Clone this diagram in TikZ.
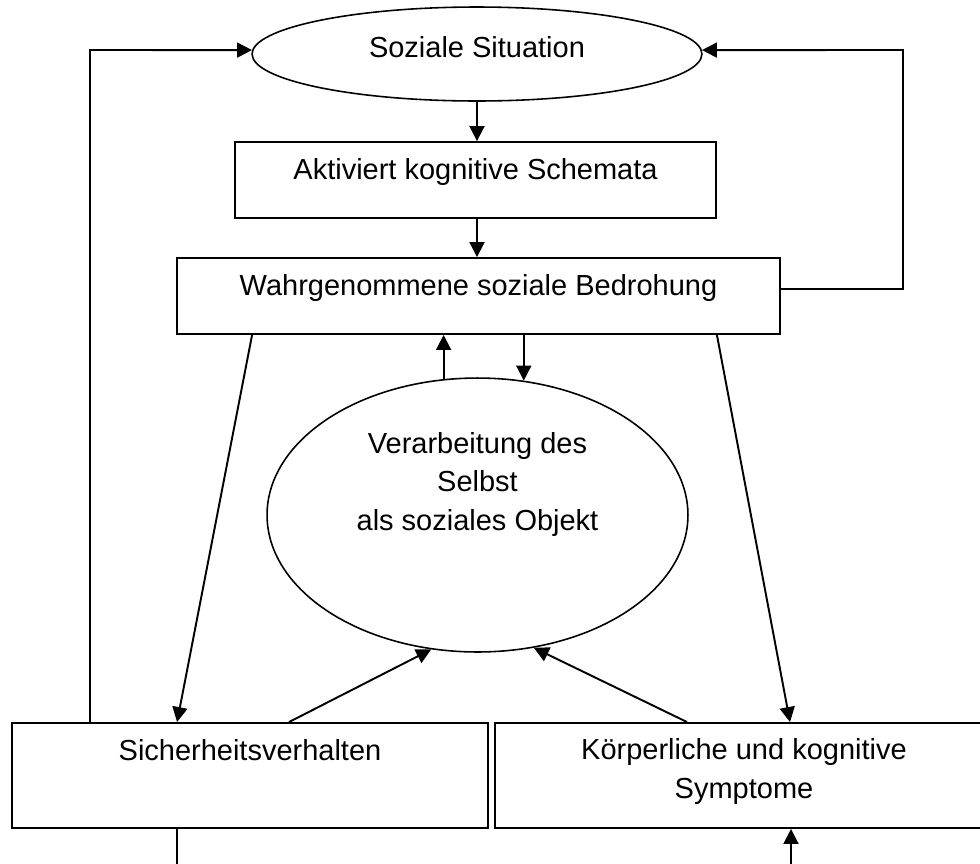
\documentclass[tikz,border=0pt]{standalone}
\usepackage{fontspec}
\setmainfont{Liberation Sans}
\usepackage{tikz}
\usetikzlibrary{arrows.meta,shapes.geometric,calc}

\begin{document}
\begin{tikzpicture}[x=0.02cm, y=-0.02cm,
  every node/.style={font=\fontsize{16.5}{21.8}\selectfont, inner sep=0pt, align=center},
  box/.style={draw, rectangle, line width=1.1pt},
  oval/.style={draw, ellipse, line width=0.9pt},
  arr/.style={-{Triangle[length=0.3cm, width=0.3cm]}, line width=1.1pt},
  plain/.style={line width=1.1pt}]
  \useasboundingbox (0,0) rectangle (980,863);

  % Top Chain: Situation -> Schemata -> Threat
  \node (sit) at (477,54) [oval, minimum width=9cm, minimum height=1.88cm, text height=0.42cm, text depth=0.3cm] {Soziale Situation};
  \node (akt) at (475.5,180) [box, minimum width=9.62cm, text height=0.74cm, text depth=0.78cm] {Aktiviert kognitive Schemata};
  \node (bed) at (478.5,296) [box, minimum width=12.06cm, text height=0.74cm, text depth=0.78cm] {Wahrgenommene soziale Bedrohung};

  % Centre Oval: Self Processing
  \node (ver) at (477.5,515) [oval, minimum width=8.42cm, minimum height=5.48cm, text height=1.98cm, text depth=1.38cm] {Verarbeitung des\\Selbst\\als soziales Objekt};

  % Bottom Boxes (right one runs past the page edge)
  \node (sich) at (250,775.5) [box, minimum width=9.52cm, text height=0.74cm, text depth=1.36cm] {Sicherheitsverhalten};
  \node (koe) at (744,775.5) [box, minimum width=9.96cm, text height=1.5cm, text depth=0.6cm] {Körperliche und kognitive\\Symptome};

  % Turning points and loose ends
  \coordinate (lturn) at (90,50);
  \coordinate (rturn) at (903,50);
  \coordinate (sichout) at (177,880);
  \coordinate (koein) at (791,880);

  % Downward chain
  \draw[arr] (sit.south) -- (sit.south |- akt.north);
  \draw[arr] (sit.south |- akt.south) -- (sit.south |- bed.north);

  % Feedback loops back to the situation
  \draw[arr] (bed.east |- 0,289) -| (rturn) -- (sit.1);
  \draw[arr] (sich.north -| lturn) -- (lturn) -- (sit.179);

  % Threat <-> self processing
  \draw[arr] (ver.104) -- (ver.104 |- bed.south);
  \draw[arr] (bed.south -| ver.71) -- (ver.71);

  % Threat -> behaviour and symptoms
  \draw[arr] ([xshift=1.52cm]bed.south west) -- ([xshift=3.32cm]sich.north west);
  \draw[arr] ([xshift=-1.28cm]bed.south east) -- ([xshift=5.92cm]koe.north west);

  % Behaviour and symptoms -> self processing
  \draw[arr] ([xshift=5.56cm]sich.north west) -- (ver.251);
  \draw[arr] ([xshift=3.86cm]koe.north west) -- (ver.293);

  % Lines leaving the page
  \draw[plain] (sich.south -| sichout) -- (sichout);
  \draw[arr] (koein) -- (koein |- koe.south);

\end{tikzpicture}
\end{document}
